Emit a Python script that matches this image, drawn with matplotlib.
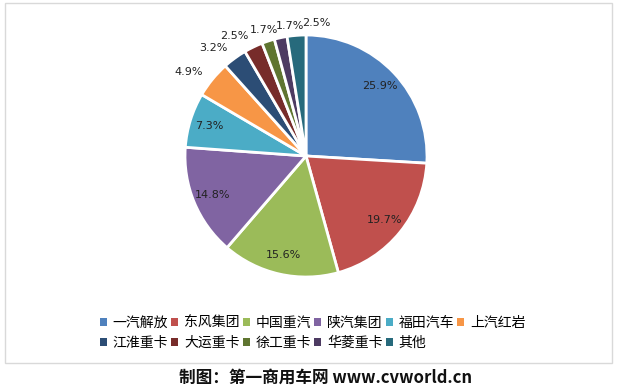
import numpy as np
import matplotlib.pyplot as plt
from matplotlib.patches import Rectangle, Patch

plt.rcParams['font.family'] = ['Noto Sans CJK SC', 'DejaVu Sans']

# data
brands = ['一汽解放', '东风集团', '中国重汽', '陕汽集团', '福田汽车', '上汽红岩',
          '江淮重卡', '大运重卡', '徐工重卡', '华菱重卡', '其他']
shares = [25.9, 19.7, 15.6, 14.8, 7.3, 4.9, 3.2, 2.5, 1.7, 1.7, 2.5]
colors = ['#4F81BD', '#C0504D', '#9BBB59', '#8064A2', '#4BACC6', '#F79646',
          '#2C4D75', '#772C2A', '#5F7530', '#4D3B62', '#276A7C']

fig = plt.figure(figsize=(6.17, 3.91), dpi=100)

# frame around the chart area
fig.patches.append(Rectangle((5 / 617, 1 - 363 / 391), 607 / 617, 360 / 391,
                             transform=fig.transFigure, fill=False,
                             edgecolor='#D9D9D9', linewidth=1))

ax = fig.add_axes([(306 - 121) / 617, (391 - 156 - 121) / 391, 242 / 617, 242 / 391])
wedges, _ = ax.pie(shares, colors=colors, startangle=90, counterclock=False,
                   radius=1.0, wedgeprops=dict(edgecolor='white', linewidth=2))
ax.set_xlim(-1, 1)
ax.set_ylim(-1, 1)
ax.set_aspect('auto')
ax.axis('off')

# percentage labels: inside for big slices, outside for small ones
prev_x = None
for i, w in enumerate(wedges):
    ang = np.deg2rad((w.theta1 + w.theta2) / 2)
    if shares[i] > 7:
        x, y, ha = 0.84 * np.cos(ang), 0.84 * np.sin(ang), 'center'
    else:
        x, y = 1.1 * np.cos(ang), 1.1 * np.sin(ang)
        if np.cos(ang) < -0.4:
            ha = 'right'
            prev_x = None
        else:
            ha = 'center'
            # push right so the crowded labels only touch
            if prev_x is not None:
                x = max(x, prev_x + 0.215)
            prev_x = x
    ax.text(x, y, '%.1f%%' % shares[i], ha=ha, va='center', fontsize=8,
            color='#222222', family=['DejaVu Sans'])

# reorder so the legend fills row by row (last slot is an invisible filler)
order = [0, 6, 1, 7, 2, 8, 3, 9, 4, 10, 5]
handles = [Patch(facecolor=colors[k], edgecolor='none') for k in order]
labels = [brands[k] for k in order]
handles.append(Patch(facecolor='none', edgecolor='none'))
labels.append('')
fig.legend(handles, labels, loc='upper left',
           bbox_to_anchor=(100 / 617, 1 - 316 / 391), ncol=6, frameon=False,
           fontsize=10, handlelength=0.5, handleheight=0.5, handletextpad=0.4,
           columnspacing=0.25, labelspacing=0.45, borderpad=0, borderaxespad=0)

fig.text(326 / 617, 1 - 378 / 391, '制图：第一商用车网 www.cvworld.cn',
         ha='center', va='center', fontsize=12, fontweight='bold', color='#111111')

fig.savefig('out.png', dpi=100)
